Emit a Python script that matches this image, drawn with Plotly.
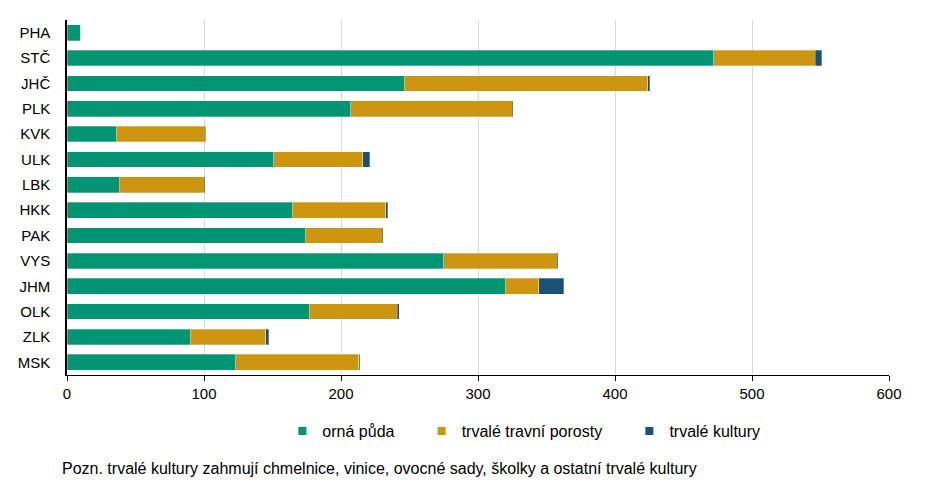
import plotly.graph_objects as go

regions = ["PHA", "STČ", "JHČ", "PLK", "KVK", "ULK", "LBK", "HKK", "PAK", "VYS", "JHM", "OLK", "ZLK", "MSK"]
orna_puda = [9.7, 472, 246, 207, 36, 151, 38, 164.5, 174, 275, 320, 177, 90, 123]
travni_porosty = [0.5, 74, 178, 118, 65, 65, 62, 68, 56, 83, 24.5, 64, 55, 90]
trvale_kultury = [0.1, 5, 1.4, 0.8, 0.3, 5, 1, 1.7, 0.8, 0.5, 18, 1.5, 2.2, 0.7]

names = ["orná půda", "trvalé travní porosty", "trvalé kultury"]
colors = ["#009572", "#CC9612", "#1A5276"]
series = [orna_puda, travni_porosty, trvale_kultury]

FONT = "Liberation Sans, Arial, sans-serif"
pad = "\u00a0" * 5

fig = go.Figure()
for name, col, vals in zip(names, colors, series):
    fig.add_trace(go.Bar(
        y=regions, x=vals, orientation="h", name=name,
        marker=dict(color=col, line=dict(width=0.6, color="rgba(255,255,255,0.5)")),
        showlegend=False,
    ))
for name, col in zip(names, colors):
    fig.add_trace(go.Scatter(
        x=[None], y=[None], mode="markers", name=name + pad,
        marker=dict(symbol="square", size=8, color=col),
    ))

fig.update_layout(
    width=945, height=498,
    barmode="stack", bargap=0.38,
    plot_bgcolor="white", paper_bgcolor="white",
    margin=dict(l=67, r=56, t=20, b=123),
    font=dict(family=FONT, size=15, color="#000000"),
    legend=dict(orientation="h", x=0.262, xanchor="left", y=-0.158, yanchor="middle",
                font=dict(size=16), itemwidth=30, tracegroupgap=0, traceorder="normal"),
    annotations=[dict(
        text="Pozn. trvalé kultury zahmují chmelnice, vinice, ovocné sady, školky a ostatní trvalé kultury",
        xref="paper", yref="paper", x=-0.008, y=-0.262, xanchor="left", yanchor="middle",
        showarrow=False, font=dict(size=16, color="#000000"),
    )],
)
fig.update_xaxes(
    range=[0, 600], dtick=100, showgrid=True, gridcolor="#d9d9d9", gridwidth=1,
    showline=True, linecolor="#000000", linewidth=1, ticks="outside", ticklen=5,
    tickcolor="#000000", zeroline=False, tickfont=dict(size=15),
)
fig.update_yaxes(
    autorange="reversed", showline=True, linecolor="#000000", linewidth=1.5,
    ticks="", ticklabelstandoff=12, tickfont=dict(size=15), showgrid=False,
)
fig.write_html("out.html")
